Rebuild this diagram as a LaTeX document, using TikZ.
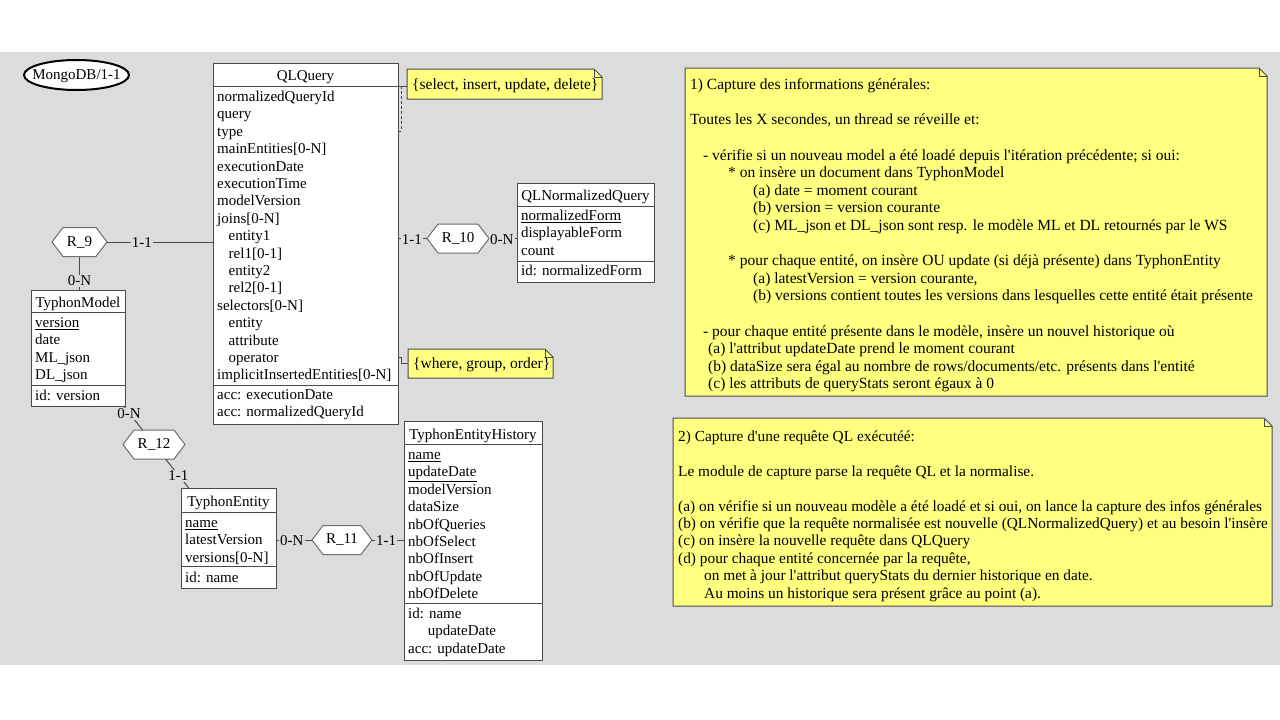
\documentclass[tikz,border=0pt]{standalone}
\usepackage{fontspec}
\setmainfont{Liberation Serif}
\usetikzlibrary{shapes.geometric,calc}
\definecolor{bggray}{HTML}{DCDCDC}
\definecolor{noteyel}{HTML}{FFFF80}
\definecolor{edgecol}{HTML}{4A4A4A}
\definecolor{hexcol}{HTML}{6E6E6E}
\newcommand\ap{\textquotesingle}
\newcommand\ind[1]{\hspace*{#1pt}}
\newcommand\drawnotefr[1]{%
  \draw[notepath] (#1.north west) -- ([xshift=-8pt]#1.north east) -- ([yshift=-8pt]#1.north east) -- (#1.south east) -- (#1.south west) -- cycle;
  \draw[notepath,fill=none] ([xshift=-8pt]#1.north east) -- ([xshift=-8pt,yshift=-8pt]#1.north east) -- ([yshift=-8pt]#1.north east);}
\begin{document}
\begin{tikzpicture}[x=1pt,y=-1pt,
  every node/.style={font=\fontsize{15}{17.4}\selectfont, text=black},
  notefont/.style={font=\fontsize{15.5}{17.4}\selectfont},
  ent/.style={draw=edgecol, fill=white, line width=1pt, anchor=north west, inner sep=0pt, outer sep=0pt},
  rows/.style={anchor=north west, inner sep=0pt, align=left},
  ttl/.style={inner sep=0pt, yshift=-2.5pt},
  sepline/.style={draw=edgecol, line width=1pt},
  conn/.style={draw=edgecol, line width=1pt},
  lab/.style={fill=bggray, inner sep=1pt, yshift=-1pt},
  rel/.style={minimum width=#1pt, minimum height=29pt, inner sep=0pt, outer sep=0pt},
  hexline/.style={draw=hexcol, fill=white, line width=1pt},
  notefr/.style={anchor=north west, inner sep=0pt, outer sep=0pt},
  notepath/.style={draw=edgecol, fill=noteyel, line width=1pt},
  pics/hexa/.style={code={\path[hexline] (-#1,0) -- ({-#1+11},-14.5) -- ({#1-11},-14.5) -- (#1,0) -- ({#1-11},14.5) -- ({-#1+11},14.5) -- cycle;}}
]
\useasboundingbox (0,0) rectangle (1280,720);
\fill[white] (0,0) rectangle (1280,720);
\fill[bggray] (0,52) rectangle (1280,665);

% MongoDB label
\coordinate (mongoc) at (76.5,75);
\draw[black, line width=2pt, fill=white] (mongoc) ellipse [x radius=52.5, y radius=15];
\node[inner sep=0pt] (mongo) at (76.5,76.5) {MongoDB/1-1};

% QLQuery
\node[ent, minimum width=185pt, minimum height=361pt] (qlq) at (213,63) {};
\draw[sepline] (213,86) -- (398,86);
\draw[sepline] (213,385) -- (398,385);
\node[ttl] (qlqt) at (305.5,74.5) {QLQuery};
\node[rows] (qlqa) at (217,89.2) {\strut normalizedQueryId\\query\\type\\mainEntities[0-N]\\executionDate\\executionTime\\modelVersion\\joins[0-N]\\\ind{11.5}entity1\\\ind{11.5}rel1[0-1]\\\ind{11.5}entity2\\\ind{11.5}rel2[0-1]\\selectors[0-N]\\\ind{11.5}entity\\\ind{11.5}attribute\\\ind{11.5}operator\\implicitInsertedEntities[0-N]};
\node[rows] (qlqi) at (217,387.2) {\strut acc: executionDate\\acc: normalizedQueryId};

% QLNormalizedQuery
\node[ent, minimum width=137pt, minimum height=99pt] (qlnq) at (517,183) {};
\draw[sepline] (517,206) -- (654,206);
\draw[sepline] (517,261) -- (654,261);
\node[ttl] (qlnqt) at (585.5,194.5) {QLNormalizedQuery};
\node[rows] (qlnqa) at (521,208.2) {\strut\underline{normalizedForm}\\displayableForm\\count};
\node[rows] (qlnqi) at (521,263.2) {\strut id: normalizedForm};

% TyphonModel
\node[ent, minimum width=94pt, minimum height=116pt] (tm) at (31,290) {};
\draw[sepline] (31,312) -- (125,312);
\draw[sepline] (31,385) -- (125,385);
\node[ttl] (tmt) at (78,301) {TyphonModel};
\node[rows] (tma) at (35,315.2) {\strut\underline{version}\\date\\ML\_json\\DL\_json};
\node[rows] (tmi) at (35,388.2) {\strut id: version};

% TyphonEntity
\node[ent, minimum width=95pt, minimum height=100pt] (te) at (181,488) {};
\draw[sepline] (181,512) -- (276,512);
\draw[sepline] (181,566) -- (276,566);
\node[ttl] (tet) at (228.5,500) {TyphonEntity};
\node[rows] (tea) at (185,515.2) {\strut\underline{name}\\latestVersion\\versions[0-N]};
\node[rows] (tei) at (185,570) {\strut id: name};

% TyphonEntityHistory
\node[ent, minimum width=138pt, minimum height=239pt] (teh) at (404,421) {};
\draw[sepline] (404,444.5) -- (542,444.5);
\draw[sepline] (404,603) -- (542,603);
\node[ttl] (teht) at (473,433) {TyphonEntityHistory};
\node[rows] (teha) at (408,447.2) {\strut\underline{name}\\\underline{updateDate}\\modelVersion\\dataSize\\nbOfQueries\\nbOfSelect\\nbOfInsert\\nbOfUpdate\\nbOfDelete};
\node[rows] (tehi) at (408,606.2) {\strut id: name\\\ind{19.6}updateDate\\acc: updateDate};

% relationship types
\pic at (79.5,242) {hexa=27.5};
\node[rel=55] (r9) at (79.5,242) {R\_9};
\pic at (458,238.5) {hexa=31};
\node[rel=62] (r10) at (458,238.5) {R\_10};
\pic at (154,444.5) {hexa=31};
\node[rel=62] (r12) at (154,444.5) {R\_12};
\pic at (342,540) {hexa=30};
\node[rel=60] (r11) at (342,540) {R\_11};

% connectors
\draw[conn] (r9) -- (r9 -| qlq.west) node[lab,pos=0.33] (l9a) {1-1};
\draw[conn] (r9) -- (r9 |- tm.north) node[lab,pos=0.7] (l9b) {0-N};
\draw[conn] (tm) -- (r12) node[lab,pos=0.29] (l12a) {0-N};
\draw[conn] (r12) -- (te) node[lab,pos=0.55] (l12b) {1-1};
\draw[conn] (qlq.east |- r10) -- (r10) node[lab,pos=0.48] (l10a) {1-1};
\draw[conn] (r10) -- (r10 -| qlnq.west) node[lab,pos=0.46] (l10b) {0-N};
\draw[conn] (te.east |- r11) -- (r11) node[lab,pos=0.44] (l11a) {0-N};
\draw[conn] (r11) -- (r11 -| teh.west) node[lab,pos=0.44] (l11b) {1-1};

% small notes
\node[notefr, minimum width=195pt, minimum height=30pt] (n1) at (407,69) {};
\drawnotefr{n1}
\node[notefont, anchor=west, inner sep=0pt] (n1t) at (412,86) {\strut\{select, insert, update, delete\}};
\node[notefr, minimum width=145pt, minimum height=29pt] (n2) at (408,349) {};
\drawnotefr{n2}
\node[notefont, anchor=west, inner sep=0pt] (n2t) at (413,365.5) {\strut\{where, group, order\}};

\coordinate (b1a) at (401,86);
\coordinate (b1b) at (401,131);
\draw[conn] (b1a -| qlq.east) -- (b1a -| n1.west);
\draw[conn, densely dashed] (b1a) -- (b1b);
\draw[conn] (b1b) -- (b1b -| qlq.east);
\coordinate (b2) at (401,357);
\draw[conn] (b2 -| qlq.east) -- (b2) |- (n2.west);

% big notes
\node[notefr, minimum width=582pt, minimum height=328pt] (nA) at (685,68) {};
\drawnotefr{nA}
\node[rows, font=\fontsize{15.5}{17.6}\selectfont] (nAt) at (690,77.2) {\strut 1) Capture des informations générales:\\
\\
Toutes les X secondes, un thread se réveille et:\\
\\
\ind{13}- vérifie si un nouveau model a été loadé depuis l\ap itération précédente; si oui:\\
\ind{38}* on insère un document dans TyphonModel\\
\ind{63}(a) date = moment courant\\
\ind{63}(b) version = version courante\\
\ind{63}(c) ML\_json et DL\_json sont resp. le modèle ML et DL retournés par le WS\\
\\
\ind{38}* pour chaque entité, on insère OU update (si déjà présente) dans TyphonEntity\\
\ind{63}(a) latestVersion = version courante,\\
\ind{63}(b) versions contient toutes les versions dans lesquelles cette entité était présente\\
\\
\ind{13}- pour chaque entité présente dans le modèle, insère un nouvel historique où\\
\ind{18}(a) l\ap attribut updateDate prend le moment courant\\
\ind{18}(b) dataSize sera égal au nombre de rows/documents/etc. présents dans l\ap entité\\
\ind{18}(c) les attributs de queryStats seront égaux à 0};

\node[notefr, minimum width=599pt, minimum height=188pt] (nB) at (673,418) {};
\drawnotefr{nB}
\node[rows, font=\fontsize{15.35}{17.4}\selectfont] (nBt) at (678,429.2) {\strut 2) Capture d\ap une requête QL exécutéé:\\
\\
Le module de capture parse la requête QL et la normalise.\\
\\
(a) on vérifie si un nouveau modèle a été loadé et si oui, on lance la capture des infos générales\\
(b) on vérifie que la requête normalisée est nouvelle (QLNormalizedQuery) et au besoin l\ap insère\\
(c) on insère la nouvelle requête dans QLQuery\\
(d) pour chaque entité concernée par la requête,\\
\ind{26}on met à jour l\ap attribut queryStats du dernier historique en date.\\
\ind{26}Au moins un historique sera présent grâce au point (a).};
\end{tikzpicture}
\end{document}
